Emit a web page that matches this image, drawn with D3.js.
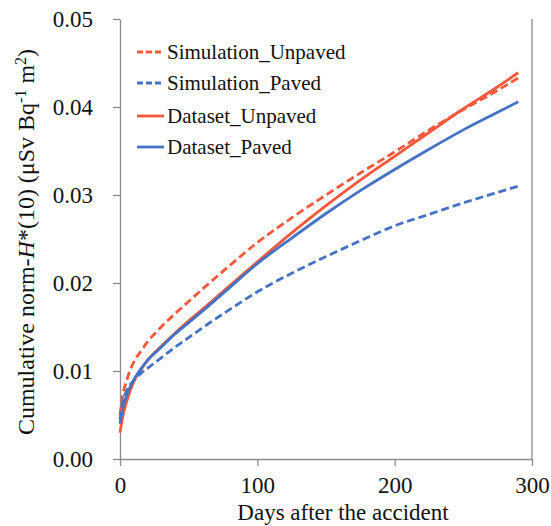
<!DOCTYPE html>
<html><head><meta charset="utf-8">
<script src="https://cdn.jsdelivr.net/npm/d3@7"></script>
<style>html,body{margin:0;padding:0;background:#fff;}svg{display:block;}</style>
</head><body><svg id="c" width="551" height="526"></svg>
<script>
const days = [0,2,5,10,15,20,30,40,50,60,80,100,125,150,175,200,225,250,275,290];
const simUnpaved = [0.0050,0.0072,0.0090,0.0110,0.0122,0.0133,0.0150,0.0165,0.0179,0.0193,0.0220,0.0246,0.0274,0.0300,0.0325,0.0349,0.0374,0.0397,0.0419,0.0433];
const simPaved   = [0.0045,0.0065,0.0078,0.0089,0.0097,0.0103,0.0115,0.0127,0.0138,0.0149,0.0170,0.0190,0.0211,0.0230,0.0248,0.0265,0.0278,0.0291,0.0303,0.0310];
const dataUnpaved= [0.0030,0.0048,0.0066,0.0088,0.0101,0.0112,0.0128,0.0143,0.0157,0.0170,0.0197,0.0224,0.0257,0.0288,0.0317,0.0344,0.0371,0.0398,0.0423,0.0439];
const dataPaved  = [0.0040,0.0058,0.0073,0.0090,0.0102,0.0112,0.0127,0.0142,0.0155,0.0168,0.0195,0.0222,0.0251,0.0279,0.0305,0.0329,0.0352,0.0374,0.0394,0.0406];
const xTicks = [0,100,200,300];
const yTicks = [0,0.01,0.02,0.03,0.04,0.05];
const seriesNames = ["Simulation_Unpaved","Simulation_Paved","Dataset_Unpaved","Dataset_Paved"];

const RED = "#F5583A", BLUE = "#4472C4", AX = "#8c8c8c";
const FONT = "'Liberation Serif','Times New Roman',serif";
const series = [
  {name: seriesNames[0], vals: simUnpaved, color: RED, dash: "8,4"},
  {name: seriesNames[1], vals: simPaved, color: BLUE, dash: "8,4"},
  {name: seriesNames[2], vals: dataUnpaved, color: RED, dash: null},
  {name: seriesNames[3], vals: dataPaved, color: BLUE, dash: null}
];

const svg = d3.select("#c");
const L = 120, R = 532, T = 19, B = 459;
const x = d3.scaleLinear().domain([0,300]).range([L,R]);
const y = d3.scaleLinear().domain([0,0.05]).range([B,T]);

svg.append("line").attr("x1",R).attr("x2",R).attr("y1",T).attr("y2",B)
  .attr("stroke",AX).attr("stroke-width",1.3);

const gx = svg.append("g").attr("transform",`translate(0,${B})`)
  .call(d3.axisBottom(x).tickValues(xTicks).tickFormat(d3.format("d")).tickSize(7).tickSizeOuter(0).tickPadding(11));
const gy = svg.append("g").attr("transform",`translate(${L},0)`)
  .call(d3.axisLeft(y).tickValues(yTicks).tickFormat(d3.format(".2f")).tickSize(7).tickSizeOuter(0).tickPadding(20));
[gx,gy].forEach(g=>{
  g.selectAll("path,line").attr("stroke",AX).attr("stroke-width",1.3);
  g.selectAll("text").attr("font-family",FONT).attr("font-size",23).attr("fill","#111");
});

const line = d3.line().x((d,i)=>x(days[i])).y(d=>y(d)).curve(d3.curveMonotoneX);
[series[2],series[3],series[0],series[1]].forEach(s=>{
  svg.append("path").attr("d",line(s.vals)).attr("fill","none")
    .attr("stroke",s.color).attr("stroke-width",2.8)
    .attr("stroke-dasharray",s.dash);
});

const legY = [52,83,116,147];
series.forEach((s,i)=>{
  svg.append("line").attr("x1",137).attr("x2",164).attr("y1",legY[i]).attr("y2",legY[i])
    .attr("stroke",s.color).attr("stroke-width",2.8).attr("stroke-dasharray",s.dash?"6,3":null);
  svg.append("text").attr("x",167).attr("y",legY[i]+7).attr("font-family",FONT)
    .attr("font-size",21).attr("fill","#111").text(s.name);
});

svg.append("text").attr("x",343).attr("y",520).attr("text-anchor","middle")
  .attr("font-family",FONT).attr("font-size",23).attr("fill","#111").text("Days after the accident");

const yl = svg.append("text").attr("transform","translate(34,242) rotate(-90)")
  .attr("text-anchor","middle").attr("font-family",FONT).attr("font-size",24).attr("fill","#111");
yl.append("tspan").text("Cumulative norm-");
yl.append("tspan").attr("font-style","italic").text("H");
yl.append("tspan").text("*(10) (μSv Bq");
yl.append("tspan").attr("font-size",16).attr("baseline-shift","super").text("-1");
yl.append("tspan").text(" m");
yl.append("tspan").attr("font-size",16).attr("baseline-shift","super").text("2");
yl.append("tspan").text(")");
</script></body></html>
